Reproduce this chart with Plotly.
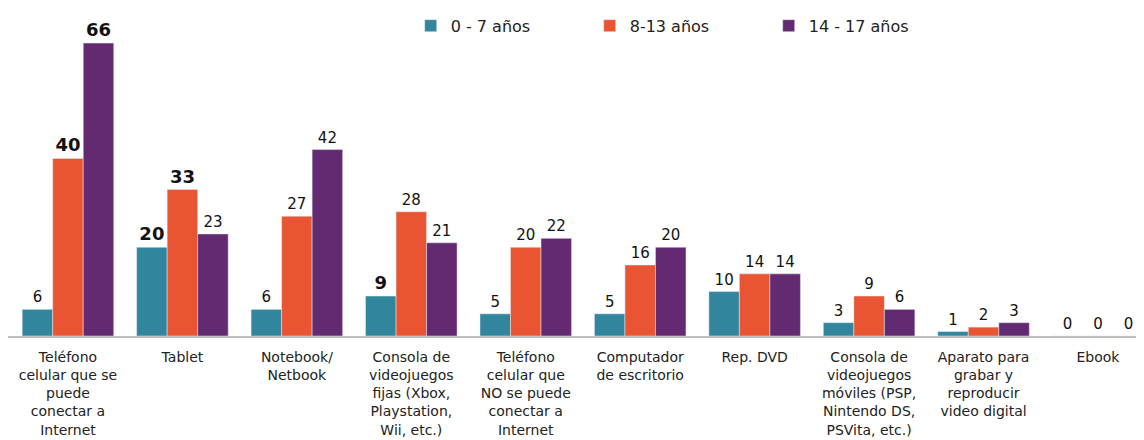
import plotly.graph_objects as go

categories = [
    "Teléfono<br>celular que se<br>puede<br>conectar a<br>Internet",
    "Tablet",
    "Notebook/<br>Netbook",
    "Consola de<br>videojuegos<br>fijas (Xbox,<br>Playstation,<br>Wii, etc.)",
    "Teléfono<br>celular que<br>NO se puede<br>conectar a<br>Internet",
    "Computador<br>de escritorio",
    "Rep. DVD",
    "Consola de<br>videojuegos<br>móviles (PSP,<br>Nintendo DS,<br>PSVita, etc.)",
    "Aparato para<br>grabar y<br>reproducir<br>video digital",
    "Ebook",
]
series_names = ["0 - 7 años", "8-13 años", "14 - 17 años"]
v_0_7 = [6, 20, 6, 9, 5, 5, 10, 3, 1, 0]
v_8_13 = [40, 33, 27, 28, 20, 16, 14, 9, 2, 0]
v_14_17 = [66, 23, 42, 21, 22, 20, 14, 6, 3, 0]
bold_0_7 = [False, True, False, True, False, False, False, False, False, False]
bold_8_13 = [True, True, False, False, False, False, False, False, False, False]
bold_14_17 = [True, False, False, False, False, False, False, False, False, False]
colors = ["#31869E", "#E95432", "#632A71"]

FONT = "DejaVu Sans, Open Sans, sans-serif"

fig = go.Figure()
for name, vals, bolds, col in zip(series_names, [v_0_7, v_8_13, v_14_17],
                                  [bold_0_7, bold_8_13, bold_14_17], colors):
    texts = [f"<b>{v}</b>" if b else str(v) for v, b in zip(vals, bolds)]
    sizes = [18 if b else 15 for b in bolds]
    fig.add_trace(go.Bar(
        name=name, x=list(range(len(categories))), y=vals, marker_color=col,
        text=texts, textposition="outside", cliponaxis=False,
        textfont=dict(size=sizes, color="#111111", family=FONT),
    ))

fig.update_layout(
    width=1136, height=432,
    margin=dict(l=0, r=0, t=4, b=104, autoexpand=False),
    barmode="group", bargap=0.2, bargroupgap=0,
    plot_bgcolor="white", paper_bgcolor="white",
    font=dict(family=FONT, size=13, color="#222222"),
    legend=dict(orientation="h", x=0.3545, y=1.01, xanchor="left", yanchor="top",
                font=dict(size=16, family=FONT), entrywidth=134, entrywidthmode="pixels",
                bgcolor="rgba(0,0,0,0)"),
)
fig.update_xaxes(showline=True, linecolor="#BFBFBF", linewidth=2, ticks="",
                 tickmode="array", tickvals=list(range(len(categories))),
                 ticktext=categories, tickfont=dict(size=14, family=FONT),
                 ticklabelstandoff=7,
                 range=[-0.524, 9.402], automargin=False)
fig.update_yaxes(range=[0, 73], visible=False, showgrid=False, automargin=False)

fig.write_html("out.html")
